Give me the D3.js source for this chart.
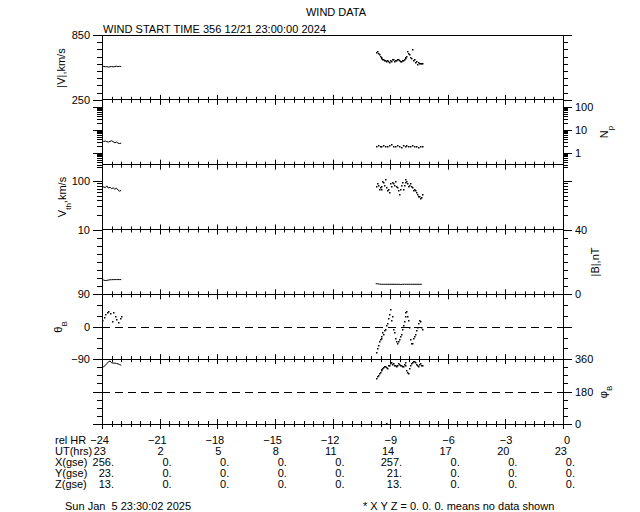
<!DOCTYPE html>
<html><head><meta charset="utf-8">
<script src="https://cdn.jsdelivr.net/npm/d3@7"></script>
<style>
body{margin:0;background:#fff;}
svg text{font-family:"Liberation Sans",Arial,sans-serif;font-size:11px;fill:#000;}
</style></head><body>
<svg id="c" width="640" height="512"></svg>
<script>
// ---------- data ----------
const hoursSeg1 = [-24.0,-23.92,-23.83,-23.75,-23.67,-23.58,-23.5,-23.42,-23.33,-23.25,-23.17,-23.08,-23.0];
const hoursSeg2 = [-9.75,-9.65,-9.55,-9.45,-9.35,-9.25,-9.15,-9.05,-8.95,-8.85,-8.75,-8.65,-8.55,-8.45,-8.35,-8.25,-8.15,-8.05,-7.95,-7.85,-7.75,-7.65,-7.55,-7.45,-7.35];
const hoursSeg2b = [-9.7,-9.6,-9.5,-9.4,-9.3,-9.2,-9.1,-9.0,-8.9,-8.8,-8.7,-8.6,-8.5,-8.4,-8.3,-8.2,-8.1,-8.0,-7.9,-7.8,-7.7,-7.6,-7.5,-7.4];
const speed1 = [562,560,556,557,553,556,559,555,558,561,557,560,558];
const speed2 = [690,680,660,640,630,615,620,600,610,625,615,630,620,605,620,640,660,680,650,720,630,610,600,590,595];
const speed2b = [700,670,650,625,620,610,605,615,630,610,620,625,610,615,630,650,700,670,640,620,600,585,590,588];
const density1 = [3.0,3.1,3.2,3.0,2.9,3.1,3.3,3.0,2.7,2.9,2.6,2.5,2.6];
const density2 = [2.0,2.1,1.9,2.0,2.2,1.9,2.0,2.1,2.3,2.0,1.9,2.2,2.0,1.8,2.1,2.0,2.2,1.9,2.0,2.1,1.9,2.0,1.8,1.9,2.0];
const vth1 = [78,76,74,80,72,75,70,73,68,72,66,62,65];
const vth2 = [80,85,75,70,95,110,65,60,80,90,100,75,55,85,70,95,100,80,90,75,70,60,50,45,55];
const vth2b = [90,70,80,100,85,75,70,90,95,85,80,65,70,95,85,110,90,85,80,65,65,55,50,48];
const bmag1 = [9.0,8.8,8.5,8.6,8.8,9.0,9.0,9.1,9.1,9.1,9.1,9.1,9.1];
const bmag2 = [6.6,6.5,6.3,6.2,6.2,6.2,6.2,6.2,6.2,6.2,6.2,6.2,6.2,6.1,6.2,6.2,6.2,6.2,6.2,6.2,6.2,6.2,6.2,6.2,6.2];
const theta1 = [20,28,35,40,45,38,15,42,30,22,12,25,30];
const theta2 = [-70,-50,-35,-25,-20,-5,10,35,20,-5,-30,-45,-35,-20,5,30,45,20,-35,-45,-25,-10,10,15,-5];
const theta2b = [-60,-40,-30,-15,-10,5,25,50,30,-15,-40,-40,-25,-5,15,40,30,0,-45,-30,-20,0,20,0];
const phi1 = [312,318,325,335,345,350,340,338,338,336,334,330,326];
const phi2 = [255,270,290,305,315,320,310,330,345,340,325,330,335,325,320,345,300,285,330,345,350,335,320,340,325];
const phi2b = [265,285,300,310,320,315,325,340,335,330,320,340,330,320,335,325,290,310,340,350,345,330,335,330];
const phiExtraHour = [-9.2];
const phiExtra = [4];

const relHr = ["\u221224","\u221221","\u221218","\u221215","\u221212","\u22129","\u22126","\u22123","0"];
const utHrs = ["23","2","5","8","11","14","17","20","23"];
const xGse = ["256.","0.","0.","0.","0.","257.","0.","0.","0."];
const yGse = ["23.","0.","0.","0.","0.","21.","0.","0.","0."];
const zGse = ["13.","0.","0.","0.","0.","13.","0.","0.","0."];
const tableRows = [["rel HR",relHr],["UT(hrs)",utHrs],["X(gse)",xGse],["Y(gse)",yGse],["Z(gse)",zGse]];

// ---------- layout ----------
const svg = d3.select("#c");
const L = 102, R = 563, T = 35, B = 424, nP = 6;
const ph = (B - T) / nP;
const x = d3.scaleLinear().domain([-24, 0]).range([L, R]);
const pTop = i => T + i * ph, pBot = i => T + (i + 1) * ph;

const yV = d3.scaleLinear().domain([250, 850]).range([pBot(0), pTop(0)]);
const yN = d3.scaleLog().domain([0.3, 200]).range([pBot(1), pTop(1)]);
const yT = d3.scaleLog().domain([10, 220]).range([pBot(2), pTop(2)]);
const yB = d3.scaleLinear().domain([0, 40]).range([pBot(3), pTop(3)]);
const yTh = d3.scaleLinear().domain([-90, 90]).range([pBot(4), pTop(4)]);
const yPh = d3.scaleLinear().domain([0, 360]).range([pBot(5), pTop(5)]);

const g = svg.append("g");

function logTicks(lo, hi) {
  const out = [];
  for (let e = -1; e <= 3; e++) for (let m = 1; m <= 9; m++) {
    const v = m * Math.pow(10, e);
    if (v >= lo - 1e-9 && v <= hi + 1e-9) out.push(v);
  }
  return out;
}
function linTicks(lo, hi, n) { return d3.range(n + 1).map(k => lo + (hi - lo) * k / n); }

function yAxes(scale, minor, major, side, labeled) {
  const mk = side === "left" ? d3.axisLeft : d3.axisRight;
  const xp = side === "left" ? L : R;
  const a1 = g.append("g").attr("transform", `translate(${xp},0)`)
    .call(mk(scale).tickValues(minor).tickSize(5).tickFormat(""));
  a1.select(".domain").remove();
  const a2 = g.append("g").attr("transform", `translate(${xp},0)`)
    .call(mk(scale).tickValues(major).tickSize(9).tickPadding(3)
      .tickFormat(labeled ? (d => (d < 0 ? "\u2212" + Math.abs(d) : d3.format("d")(d))) : ""));
  a2.select(".domain").remove();
  [a1, a2].forEach(a => a.selectAll("line").attr("stroke", "#000").attr("shape-rendering", "crispEdges"));
  a2.selectAll("text").style("font-size", "11px");
}

const vMinor = linTicks(250, 850, 9);
yAxes(yV, vMinor, [250, 850], "left", true);
yAxes(yV, vMinor, [250, 850], "right", false);
const nMinor = logTicks(0.3, 200);
yAxes(yN, nMinor, [1, 10, 100], "left", false);
yAxes(yN, nMinor, [1, 10, 100], "right", true);
const tMinor = logTicks(10, 220);
yAxes(yT, tMinor, [10, 100], "left", true);
yAxes(yT, tMinor, [10, 100], "right", false);
const bMinor = linTicks(0, 40, 8);
yAxes(yB, bMinor, [0, 40], "left", false);
yAxes(yB, bMinor, [0, 40], "right", true);
const thMinor = linTicks(-90, 90, 6);
yAxes(yTh, thMinor, [-90, 0, 90], "left", true);
yAxes(yTh, thMinor, [-90, 0, 90], "right", false);
const phMinor = linTicks(0, 360, 8);
yAxes(yPh, phMinor, [0, 180, 360], "left", false);
yAxes(yPh, phMinor, [0, 180, 360], "right", true);

g.append("rect").attr("x", L).attr("y", T).attr("width", R - L).attr("height", B - T)
  .attr("fill", "none").attr("stroke", "#000").attr("shape-rendering", "crispEdges");
for (let i = 1; i < nP; i++) {
  g.append("line").attr("x1", L).attr("x2", R).attr("y1", pTop(i)).attr("y2", pTop(i))
    .attr("stroke", "#000").attr("shape-rendering", "crispEdges");
}
const xMinor = d3.range(-24, 0.01, 0.5);
const xMajor = d3.range(-24, 0.01, 3);
for (let i = 1; i <= nP; i++) {
  const yy = pTop(i);
  g.append("g").attr("transform", `translate(0,${yy})`)
    .selectAll("line").data(xMinor).join("line")
    .attr("x1", d => Math.round(x(d)) + 0.5).attr("x2", d => Math.round(x(d)) + 0.5)
    .attr("y1", d => xMajor.includes(d) ? -5 : -3).attr("y2", d => xMajor.includes(d) ? 5 : 3)
    .attr("stroke", "#000");
}

g.append("line").attr("x1", L).attr("x2", R).attr("y1", Math.round(yTh(0)) + 0.5).attr("y2", Math.round(yTh(0)) + 0.5)
  .attr("stroke", "#000").attr("stroke-dasharray", "8,5");
g.append("line").attr("x1", L).attr("x2", R).attr("y1", Math.round(yPh(180)) + 0.5).attr("y2", Math.round(yPh(180)) + 0.5)
  .attr("stroke", "#000").attr("stroke-dasharray", "8,5");

function drawLine(hours, vals, y) {
  const line = d3.line().x((d, i) => x(hours[i])).y(d => y(d));
  g.append("path").datum(vals).attr("d", line).attr("fill", "none").attr("stroke", "#000").attr("stroke-width", 1);
}
function drawDots(hours, vals, y) {
  g.append("g").selectAll("rect").data(vals).join("rect")
    .attr("x", (d, i) => Math.round(x(hours[i]))).attr("y", d => Math.round(y(d)))
    .attr("width", 1.5).attr("height", 1.5).attr("fill", "#000");
}
drawLine(hoursSeg1, speed1, yV);
drawDots(hoursSeg2, speed2, yV);
drawDots(hoursSeg2b, speed2b, yV);
drawLine(hoursSeg1, density1, yN);
drawDots(hoursSeg2, density2, yN);
drawLine(hoursSeg1, vth1, yT);
drawDots(hoursSeg2, vth2, yT);
drawDots(hoursSeg2b, vth2b, yT);
drawLine(hoursSeg1, bmag1, yB);
drawLine(hoursSeg2, bmag2, yB);
drawDots(hoursSeg1, theta1, yTh);
drawDots(hoursSeg2, theta2, yTh);
drawDots(hoursSeg2b, theta2b, yTh);
drawLine(hoursSeg1, phi1, yPh);
drawDots(hoursSeg2, phi2, yPh);
drawDots(hoursSeg2b, phi2b, yPh);
drawDots(phiExtraHour, phiExtra, yPh);

svg.append("text").attr("x", 336).attr("y", 16).attr("text-anchor", "middle").text("WIND DATA");
svg.append("text").attr("x", 103).attr("y", 33).attr("textLength", 223).attr("lengthAdjust", "spacing")
  .text("WIND START TIME 356 12/21 23:00:00 2024");

function vlabel(cx, cy, main, sub, rest) {
  const t = svg.append("text").attr("transform", `translate(${cx},${cy}) rotate(-90)`).attr("text-anchor", "middle");
  t.append("tspan").text(main);
  if (sub) t.append("tspan").attr("baseline-shift", "sub").style("font-size", "8px").text(sub);
  if (rest) t.append("tspan").text(rest);
}
vlabel(65, 68, "|V|,km/s");
vlabel(66, 197, "V", "th", ",km/s");
vlabel(62, 327, "\u03B8", "B");
vlabel(608, 132, "N", "p");
vlabel(599, 262, "|B|,nT");
vlabel(607, 392, "\u03C6", "B");

const rowY = [444, 455, 466, 477, 488];
const colOff = [7, 4, 12, 12, 12];
tableRows.forEach((r, ri) => {
  svg.append("text").attr("x", 55).attr("y", rowY[ri]).text(r[0]);
  svg.append("g").selectAll("text").data(r[1]).join("text")
    .attr("x", (d, i) => x(xMajor[i]) + colOff[ri]).attr("y", rowY[ri])
    .attr("text-anchor", "end").text(d => d);
});
svg.append("text").attr("x", 65).attr("y", 510).attr("xml:space", "preserve").text("Sun Jan  5 23:30:02 2025");
svg.append("text").attr("x", 363).attr("y", 510).text("* X Y Z = 0. 0. 0. means no data shown");
</script></body></html>
